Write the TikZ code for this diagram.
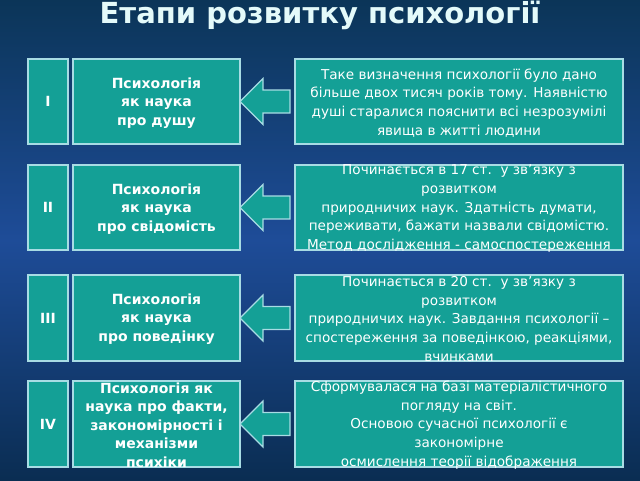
\documentclass[tikz,border=0pt]{standalone}
\usepackage{fontspec}
\setmainfont{DejaVu Sans}
\usetikzlibrary{positioning}
\definecolor{bgtop}{HTML}{0B3558}
\definecolor{bgmid}{HTML}{1E4C98}
\definecolor{bgbot}{HTML}{0A2D52}
\definecolor{boxfill}{HTML}{14A096}
\definecolor{boxline}{HTML}{A8DCE4}
\definecolor{titlecol}{HTML}{E4FAFA}
\tikzset{
  tealbox/.style={draw=boxline, fill=boxfill, line width=1.2pt},
  numtext/.style={text=white, font=\bfseries\fontsize{14}{19}\selectfont, align=center},
  stagetext/.style={text=white, font=\bfseries\fontsize{14}{18.6}\selectfont, align=center},
  desctext/.style={text=white, font=\fontsize{13.6}{18.8}\selectfont, align=center},
  blockarrow/.style={draw=boxline, fill=boxfill, line width=1.2pt, line join=miter}
}
\begin{document}
\begin{tikzpicture}[x=1pt,y=-1pt]
\useasboundingbox (0,0) rectangle (640,480);
\shade[top color=bgtop, bottom color=bgmid, shading angle=0] (0,0) rectangle (640,240);
\shade[top color=bgmid, bottom color=bgbot] (0,240) rectangle (640,480.5);
\node[text=titlecol, font=\bfseries\fontsize{29}{29}\selectfont, anchor=base, inner sep=0pt] (title) at (320,23.5) {Етапи розвитку психології};
% rows
\foreach \r/\t/\b in {1/59/144, 2/165/250, 3/275/361, 4/381/467}{
  \draw[tealbox] (28,\t) rectangle (68,\b);
  \draw[tealbox] (73,\t) rectangle (240,\b);
  \draw[tealbox] (295,\t) rectangle (623,\b);
  \draw[blockarrow] (240,{(\t+\b)/2}) -- (263,{(\t+\b)/2-23}) -- (263,{(\t+\b)/2-11.5}) -- (290,{(\t+\b)/2-11.5}) -- (290,{(\t+\b)/2+11.5}) -- (263,{(\t+\b)/2+11.5}) -- (263,{(\t+\b)/2+23}) -- cycle;
}
% numerals
\node[numtext] (n1) at (48,101.5) {I};
\node[numtext] (n2) at (48,207.5) {II};
\node[numtext] (n3) at (48,318) {III};
\node[numtext] (n4) at (48,424) {IV};
% stages
\node[stagetext] (s1) at (156.5,103) {Психологія\\як наука\\про душу};
\node[stagetext] (s2) at (156.5,209) {Психологія\\як наука\\про свідомість};
\node[stagetext] (s3) at (156.5,319) {Психологія\\як наука\\про поведінку};
\node[stagetext] (s4) at (156.5,425) {Психологія як\\наука про факти,\\закономірності і\\механізми\\психіки};
% descriptions
\node[desctext] (d1) at (459,103) {Таке визначення психології було дано\\більше двох тисяч років тому. Наявністю\\душі старалися пояснити всі незрозумілі\\явища в житті людини};
\node[desctext] (d2) at (459,208.5) {Починається в 17 ст.\ \ у зв’язку з\\розвитком\\природничих наук. Здатність думати,\\переживати, бажати назвали свідомістю.\\Метод дослідження - самоспостереження};
\node[desctext] (d3) at (459,319) {Починається в 20 ст.\ \ у зв’язку з\\розвитком\\природничих наук. Завдання психології –\\спостереження за поведінкою, реакціями,\\вчинками};
\node[desctext] (d4) at (459,425) {Сформувалася на базі матеріалістичного\\погляду на світ.\\Основою сучасної психології є\\закономірне\\осмислення теорії відображення};
\end{tikzpicture}
\end{document}
